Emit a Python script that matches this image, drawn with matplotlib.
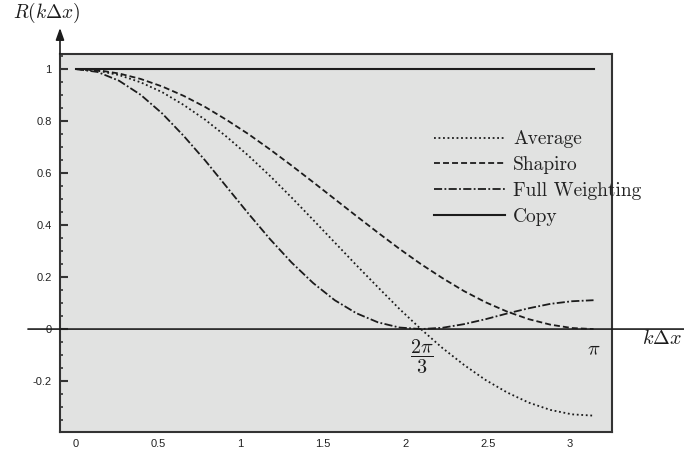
import matplotlib
matplotlib.use("Agg")
import matplotlib.pyplot as plt
from matplotlib.ticker import MultipleLocator, FormatStrFormatter

plt.rcParams["axes.unicode_minus"] = False
plt.rcParams["mathtext.fontset"] = "cm"

# values (k dx from 0 to pi)
kdx = [0, 0.131, 0.262, 0.393, 0.524, 0.654, 0.785, 0.916, 1.047, 1.178, 1.309, 1.440,
       1.571, 1.702, 1.833, 1.963, 2.094, 2.225, 2.356, 2.487, 2.618, 2.749, 2.880, 3.011, 3.142]
average = [1, 0.994, 0.977, 0.949, 0.911, 0.862, 0.805, 0.739, 0.667, 0.589, 0.506, 0.420,
           0.333, 0.246, 0.161, 0.078, 0, -0.073, -0.138, -0.196, -0.244, -0.283, -0.311, -0.328, -0.333]
shapiro = [1, 0.996, 0.983, 0.962, 0.933, 0.897, 0.854, 0.804, 0.750, 0.691, 0.629, 0.565,
           0.500, 0.435, 0.371, 0.309, 0.250, 0.196, 0.146, 0.103, 0.067, 0.038, 0.017, 0.004, 0]
full_weighting = [1, 0.989, 0.955, 0.901, 0.829, 0.743, 0.648, 0.546, 0.444, 0.346, 0.256, 0.177,
                  0.111, 0.061, 0.026, 0.006, 0, 0.005, 0.019, 0.038, 0.060, 0.080, 0.097, 0.107, 0.111]
copy_end = [0, 3.142]
copy = [1, 1]

ink = "#1c1c1c"

fig = plt.figure(figsize=(6.84, 4.55), dpi=100)
ax = fig.add_axes([0.0877, 0.0505, 0.8070, 0.8308])
ax.set_facecolor("#e1e2e1")

ax.plot(kdx, average, color=ink, lw=1.3, linestyle=(0, (1, 1.5)), label="Average")
ax.plot(kdx, shapiro, color=ink, lw=1.3, linestyle=(0, (3.3, 1.7)), label="Shapiro")
ax.plot(kdx, full_weighting, color=ink, lw=1.3, linestyle=(0, (4.5, 1.3, 1, 1.3)), label="Full Weighting")
ax.plot(copy_end, copy, color=ink, lw=1.5, label="Copy")

ax.set_xlim(-0.097, 3.254)
ax.set_ylim(-0.396, 1.058)

ax.xaxis.set_major_locator(MultipleLocator(0.5))
ax.xaxis.set_major_formatter(FormatStrFormatter("%g"))
ax.yaxis.set_major_locator(MultipleLocator(0.2))
ax.yaxis.set_minor_locator(MultipleLocator(0.05))
ax.yaxis.set_major_formatter(FormatStrFormatter("%g"))
ax.tick_params(axis="x", length=0, pad=5, labelsize=8, labelcolor="#222222")
ax.tick_params(axis="y", which="major", direction="in", length=6, width=1.5, pad=6,
               labelsize=8, labelcolor="#222222", color="#333333")
ax.tick_params(axis="y", which="minor", direction="in", length=2.5, width=1.2, color="#333333")
for lab in ax.get_xticklabels() + ax.get_yticklabels():
    lab.set_family("Liberation Sans")

for sp in ax.spines.values():
    sp.set_color("#333333")
    sp.set_linewidth(1.5)

# horizontal axis through zero with arrow
ax.annotate("", xy=(1.19, 0), xytext=(-0.058, 0),
            xycoords=ax.get_yaxis_transform(), textcoords=ax.get_yaxis_transform(),
            arrowprops=dict(arrowstyle="-|>,head_length=0.7,head_width=0.25", color=ink, lw=1.2,
                            shrinkA=0, shrinkB=0),
            annotation_clip=False, zorder=5)
# vertical axis arrow above the box
ax.annotate("", xy=(0, 1.069), xytext=(0, 1.0), xycoords="axes fraction",
            arrowprops=dict(arrowstyle="-|>,head_length=0.7,head_width=0.25", color=ink, lw=1.2,
                            shrinkA=0, shrinkB=0),
            annotation_clip=False)

fig.text(0.069, 0.971, r"$R(k\Delta x)$", fontsize=14, ha="center", va="center", color=ink)
ax.text(1.09, 0, r"$k\Delta x$", transform=ax.get_yaxis_transform(), fontsize=14.5,
        ha="center", va="top", color=ink)
ax.annotate(r"$\pi$", xy=(3.142, 0), xytext=(0, -8), textcoords="offset points",
            fontsize=14.5, ha="center", va="top", color=ink)
ax.annotate(r"$\dfrac{2\pi}{3}$", xy=(2.094, 0), xytext=(1, -6), textcoords="offset points",
            fontsize=14.5, ha="center", va="top", color=ink)

leg = ax.legend(loc="upper left", bbox_to_anchor=(0.678, 0.798), frameon=False,
                prop={"family": "cmr10", "size": 14}, handlelength=3.66, handletextpad=0.41,
                labelspacing=0.4, borderpad=0, borderaxespad=0)
for t in leg.get_texts():
    t.set_color("#222222")

fig.savefig("out.png", dpi=100)
